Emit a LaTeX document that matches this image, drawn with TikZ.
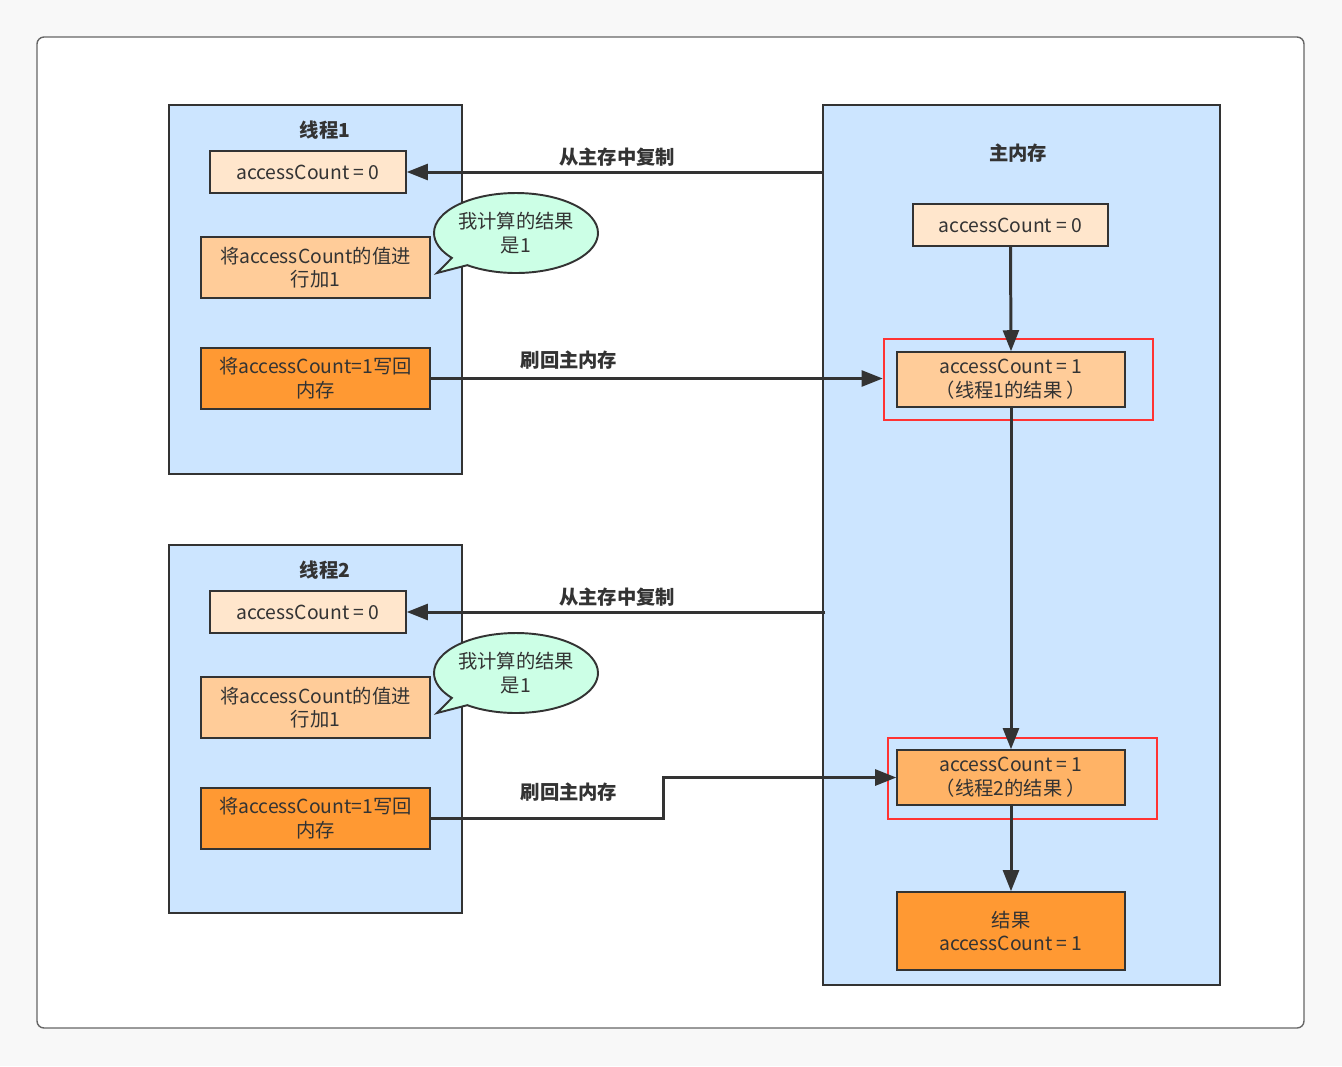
\documentclass[tikz,border=0pt]{standalone}
\usepackage{fontspec}
\setmainfont{Noto Sans CJK SC}
\usepackage{tikz}
\usetikzlibrary{arrows.meta, shapes, shapes.callouts, positioning, calc}
\definecolor{pagegray}{RGB}{248,248,248}
\definecolor{framegray}{RGB}{102,102,102}
\definecolor{ink}{RGB}{51,51,51}
\definecolor{threadblue}{RGB}{204,229,255}
\definecolor{paleorange}{RGB}{255,230,204}
\definecolor{lightorange}{RGB}{255,204,153}
\definecolor{midorange}{RGB}{255,179,102}
\definecolor{deeporange}{RGB}{255,153,51}
\definecolor{mint}{RGB}{204,255,230}
\definecolor{markred}{RGB}{255,51,51}

\tikzset{
  area/.style={draw=ink, line width=0.9pt, fill=threadblue},
  cell/.style={draw=ink, line width=0.8pt, rectangle, align=center, text=ink, font=\fontsize{11}{13.5}\selectfont, inner sep=0pt},
  title/.style={text=ink, font=\fontsize{11}{13}\selectfont\bfseries},
  note/.style={ellipse callout, draw=ink, line width=1.1pt, fill=mint, align=center, text=ink, inner sep=0pt, font=\fontsize{11}{13.5}\selectfont, minimum width=3.2cm, minimum height=1.6cm},
  redframe/.style={draw=markred, line width=1.4pt, rectangle, inner sep=0pt},
  flow/.style={draw=ink, line width=1.7pt, -{Triangle[length=12pt,width=9pt]}},
}

\begin{document}
\begin{tikzpicture}[x=0.02cm, y=-0.02cm]
  \fill[pagegray] (0,0) rectangle (1342,1066);
  \useasboundingbox (0,0) rectangle (1342,1066);
  \draw[framegray, fill=white, line width=0.8pt, rounded corners=4] (37,37) rectangle (1304,1028);

  % thread 1
  \draw[area] (169,105) rectangle (462,474);
  \node[title] (t1title) at (325,130) {线程1};
  \node[cell, fill=paleorange, minimum width=3.92cm, minimum height=0.84cm] (t1acc) at (308,172) {accessCount = 0};
  \node[cell, fill=lightorange, minimum width=4.58cm, minimum height=1.22cm] (t1add) at (315.5,267.5) {将accessCount的值进\\行加1};
  \node[cell, fill=deeporange, minimum width=4.58cm, minimum height=1.22cm] (t1write) at (315.5,378.5) {将accessCount=1写回\\内存};
  \node[note, callout absolute pointer={(437,273)}] (t1note) at (516,233) {我计算的结果\\是1};

  % thread 2
  \draw[area] (169,545) rectangle (462,913);
  \node[title] (t2title) at (325,570) {线程2};
  \node[cell, fill=paleorange, minimum width=3.92cm, minimum height=0.84cm] (t2acc) at (308,612) {accessCount = 0};
  \node[cell, fill=lightorange, minimum width=4.58cm, minimum height=1.22cm] (t2add) at (315.5,707.5) {将accessCount的值进\\行加1};
  \node[cell, fill=deeporange, minimum width=4.58cm, minimum height=1.22cm] (t2write) at (315.5,818.5) {将accessCount=1写回\\内存};
  \node[note, callout absolute pointer={(437,713)}] (t2note) at (516,673) {我计算的结果\\是1};

  % main memory
  \node[area, rectangle, minimum width=7.94cm, minimum height=17.6cm, inner sep=0pt] (mem) at (1021.5,545) {};
  \node[title] (memtitle) at (1018,153) {主内存};
  \node[cell, fill=paleorange, minimum width=3.9cm, minimum height=0.84cm] (memacc) at (1010.5,225) {accessCount = 0};
  \node[redframe, minimum width=5.38cm, minimum height=1.62cm] (mem1frame) at (1018.5,379.5) {};
  \node[cell, fill=lightorange, minimum width=4.56cm, minimum height=1.1cm] (mem1) at (1011,379.5) {accessCount = 1\\（线程1的结果 ）};
  \node[redframe, minimum width=5.38cm, minimum height=1.62cm] (mem2frame) at (1022.5,778.5) {};
  \node[cell, fill=midorange, minimum width=4.56cm, minimum height=1.1cm] (mem2) at (1011,777.5) {accessCount = 1\\（线程2的结果 ）};
  \node[cell, fill=deeporange, minimum width=4.56cm, minimum height=1.56cm] (result) at (1011,931) {结果\\accessCount = 1};

  % copies and write-backs
  \draw[flow] (t1acc -| mem.west) -- (t1acc.east);
  \node[title] (copy1) at (617,157) {从主存中复制};
  \draw[flow] (t1write.east) -- (t1write.east -| mem1frame.west);
  \node[title] (back1) at (569,360) {刷回主内存};
  \draw[flow] ($(t2acc -| mem.west)+(3,0)$) -- (t2acc.east);
  \node[title] (copy2) at (617,597) {从主存中复制};
  \draw[flow] (t2write.east) -- ++(233,0) |- (mem2.west);
  \node[title] (back2) at (569,792) {刷回主内存};

  % inside main memory
  \draw[flow] (memacc.south) -- (mem1.north);
  \draw[flow] (mem1.south) -- (mem2.north);
  \draw[flow] (mem2.south) -- (result.north);
\end{tikzpicture}
\end{document}
